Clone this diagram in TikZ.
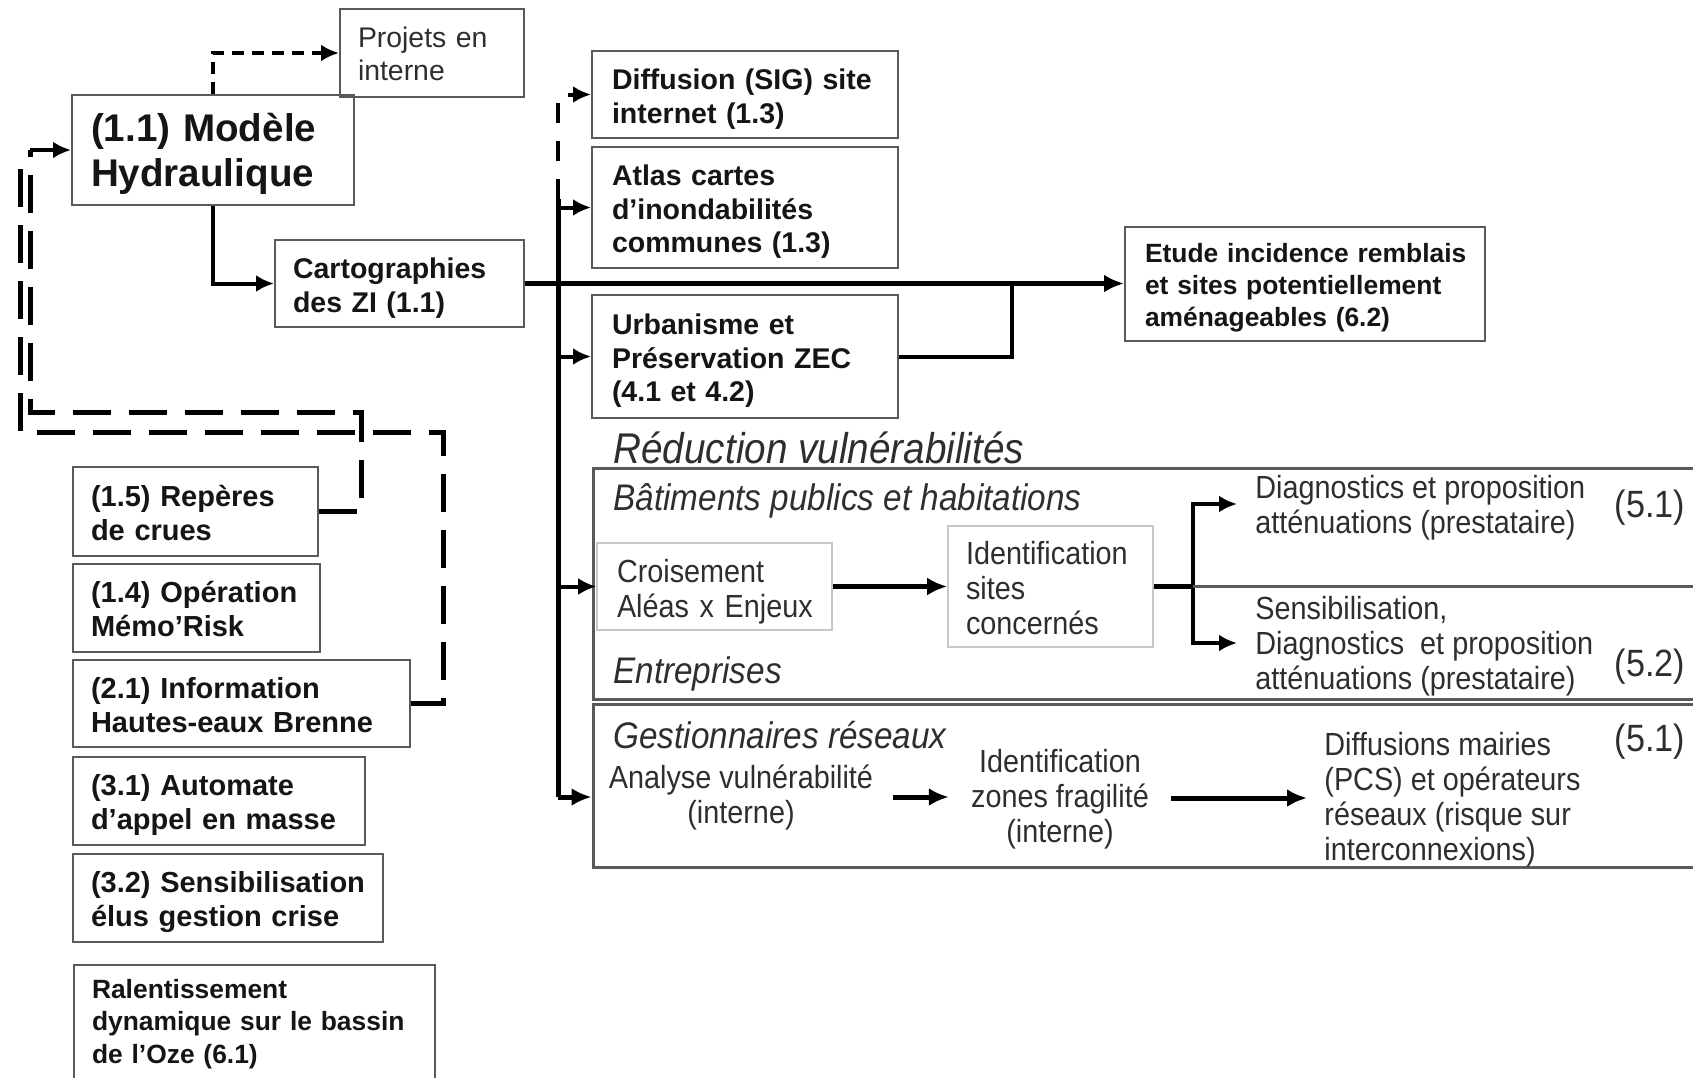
\documentclass[tikz,border=0pt]{standalone}
\usepackage{fontspec}
\setmainfont{Liberation Sans}
\newfontfamily\narrowf[FakeStretch=0.9]{Liberation Sans}
\usetikzlibrary{arrows.meta}
\definecolor{bordc}{HTML}{5A5A5A}
\definecolor{lightc}{HTML}{C8C8C8}
\definecolor{txtc}{HTML}{2E2E2E}
\definecolor{inkc}{HTML}{151515}
\newcommand{\fntBox}{\fontsize{14.25}{16.8}\selectfont\bfseries}
\newcommand{\fntBig}{\fontsize{19.3}{22.5}\selectfont\bfseries}
\newcommand{\fntEtude}{\fontsize{13.2}{16}\selectfont\bfseries}
\newcommand{\fntLeft}{\fontsize{14.5}{17}\selectfont\bfseries}
\newcommand{\fntRal}{\fontsize{13.2}{16.25}\selectfont\bfseries}
\newcommand{\fntProj}{\fontsize{14.2}{16.5}\selectfont}
\newcommand{\fntNar}{\narrowf\fontsize{16}{17.5}\selectfont}
\newcommand{\fntRed}{\narrowf\itshape\fontsize{21.5}{24}\selectfont}
\newcommand{\fntSec}{\narrowf\itshape\fontsize{18.5}{21}\selectfont}
\newcommand{\fntNum}{\narrowf\fontsize{19}{21}\selectfont}
% multi-line text, pushed slightly down inside its box
\newcommand{\mlines}[2][5pt]{\begin{tabular}{@{}l@{}}\noalign{\vskip #1}#2\end{tabular}}
\newcommand{\clines}[2][5pt]{\begin{tabular}{@{}c@{}}\noalign{\vskip #1}#2\end{tabular}}
\tikzset{
  bbox/.style={draw=bordc, line width=1pt, align=left, inner xsep=9.5pt, inner ysep=0pt, text=inkc, font=\fntBox},
  lbox/.style={bbox, font=\fntLeft, inner xsep=9pt},
  gbox/.style={draw=lightc, line width=0.8pt, align=left, inner xsep=9pt, inner ysep=0pt, text=txtc, font=\fntNar},
  ntext/.style={align=left, inner xsep=9pt, inner ysep=0pt, text=txtc, font=\fntNar},
  sect/.style={inner sep=0pt, text=txtc, font=\fntSec},
  num/.style={inner sep=0pt, text=txtc, font=\fntNum},
  bigbox/.style={draw=bordc, line width=1.5pt, minimum width=563.5pt},
  conn/.style={line width=2pt, draw=black},
  connM/.style={line width=2.5pt, draw=black},
  arr/.style={conn, -{Latex[length=9pt,width=8.5pt]}},
  arrM/.style={connM, -{Latex[length=10pt,width=9pt]}},
  dshL/.style={line width=2.5pt, dash pattern=on 19pt off 9pt},
  dshP/.style={dash pattern=on 6pt off 4pt},
  dshT/.style={dash pattern=on 10pt off 9pt},
}
\begin{document}
\begin{tikzpicture}[x=0.5pt,y=-0.5pt]
\useasboundingbox (0,0) rectangle (1693,1077);
\clip (0,0) rectangle (1693,1077);

% ---- top left ----
\node[bbox, font=\fntBig, minimum width=141pt, minimum height=55pt, text width=122pt] (modele) at (213,150) {\mlines{(1.1) Modèle\\Hydraulique}};
\node[bbox, font=\fntProj, text=txtc, inner xsep=9pt, minimum width=92pt, minimum height=44pt, text width=74pt] (projets) at (432,53) {\mlines[4pt]{Projets en\\interne}};
\node[bbox, inner xsep=9pt, minimum width=124.5pt, minimum height=43.5pt, text width=106.5pt] (carto) at (399.5,283.5) {\mlines{Cartographies\\des ZI (1.1)}};

% ---- middle column ----
\node[bbox, inner xsep=10pt, minimum width=153pt, minimum height=43.5pt, text width=133pt] (diff) at (745,94.5) {\mlines{Diffusion (SIG) site\\internet (1.3)}};
\node[bbox, inner xsep=10pt, minimum width=153pt, minimum height=60.5pt, text width=133pt] (atlas) at (745,207.5) {\mlines{Atlas cartes\\d’inondabilités\\communes (1.3)}};
\node[bbox, inner xsep=10pt, minimum width=153pt, minimum height=61.5pt, text width=133pt] (urb) at (745,356.5) {\mlines{Urbanisme et\\Préservation ZEC\\(4.1 et 4.2)}};
\node[bbox, font=\fntEtude, inner xsep=10pt, minimum width=180pt, minimum height=57pt, text width=160pt] (etude) at (1305,284) {\mlines[4pt]{Etude incidence remblais\\et sites potentiellement\\aménageables (6.2)}};

% ---- left column ----
\node[lbox, minimum width=122.5pt, minimum height=44.5pt, text width=104.5pt] (rep15) at (195.5,511.5) {\mlines{(1.5) Repères\\de crues}};
\node[lbox, minimum width=123.5pt, minimum height=44pt, text width=105.5pt] (memo14) at (196.5,608) {\mlines{(1.4) Opération\\Mémo’Risk}};
\node[lbox, minimum width=168.5pt, minimum height=43.5pt, text width=150.5pt] (info21) at (241.5,703.5) {\mlines{(2.1) Information\\Hautes-eaux Brenne}};
\node[lbox, minimum width=146pt, minimum height=44pt, text width=128pt] (auto31) at (219,801) {\mlines{(3.1) Automate\\d’appel en masse}};
\node[lbox, minimum width=155pt, minimum height=44pt, text width=137pt] (sens32) at (228,898) {\mlines{(3.2) Sensibilisation\\élus gestion crise}};
\node[lbox, font=\fntRal, minimum width=180.5pt, minimum height=57pt, text width=162.5pt] (ralent) at (254.5,1022) {\mlines[2pt]{Ralentissement\\dynamique sur le bassin\\de l’Oze (6.1)}};

% ---- reduction vulnerabilites ----
\node[bigbox, minimum height=115.5pt] (red1) at (1156.5,583.5) {};
\node[bigbox, minimum height=81.5pt] (red2) at (1156.5,785.5) {};
\node[sect, font=\fntRed, anchor=base west] (lred) at (613,463) {Réduction vulnérabilités};
\node[sect, anchor=base west] (lbat) at (613,510) {Bâtiments publics et habitations};
\node[sect, anchor=base west] (lent) at (613,683) {Entreprises};
\node[sect, anchor=base west] (lges) at (613,748) {Gestionnaires réseaux};

\node[gbox, inner xsep=10pt, minimum width=117.5pt, minimum height=43.5pt, text width=97.5pt] (crois) at (714.5,586.5) {\mlines[6pt]{Croisement\\Aléas x Enjeux}};
\node[gbox, minimum width=102.5pt, minimum height=60.5pt, text width=84.5pt] (idsites) at (1050.5,586.5) {\mlines[6pt]{Identification\\sites\\concernés}};
\node[ntext, anchor=west] (diag51) at (1237,504) {\mlines[5pt]{Diagnostics et proposition\\atténuations (prestataire)}};
\node[ntext, anchor=west] (sens52) at (1237,643) {\mlines[4pt]{Sensibilisation,\\Diagnostics\ \ et proposition\\atténuations (prestataire)}};
\node[num] (n51a) at (1650,508) {(5.1)};
\node[num] (n52) at (1650,667) {(5.2)};
\node[num] (n51b) at (1650,742) {(5.1)};

\node[ntext, inner xsep=10pt] (analyse) at (741,797) {\clines[2pt]{Analyse vulnérabilité\\(interne)}};
\node[ntext, inner xsep=11pt] (idzone) at (1060,798) {\clines[2pt]{Identification\\zones fragilité\\(interne)}};
\node[ntext, anchor=west, inner xsep=8.5pt] (dmair) at (1307,798) {\mlines[3pt]{Diffusions mairies\\(PCS) et opérateurs\\réseaux (risque sur\\interconnexions)}};

% ---- connectors: top left ----
\draw[arr, dshP] (modele.north) |- (projets.west);
\draw[arr] (modele.south) |- (carto.west);
\draw[arrM] (carto.east) -- (carto.east -| etude.west);

% trunk
\coordinate (tj) at (558,283.5);
\coordinate (td) at (558,199);
\coordinate (tb) at (558,797);
\draw[connM] (td) -- (tb);
\draw[arr, dshT] (td) |- (diff.west);
\draw[arr] (atlas.west -| tj) -- (atlas.west);
\draw[arr] (urb.west -| tj) -- (urb.west);
\draw[arr] (crois.west -| tj) -- (crois.west);
\draw[arrM] (tb) -- (tb -| red2.west);

% urbanisme to main line
\coordinate (uj) at (1012,283.5);
\draw[conn] (urb.east) -| (uj);

% reduction flows
\draw[arrM] (crois.east) -- (idsites.west);
\coordinate (br) at (1193,586.5);
\draw[connM] (idsites.east) -- (br);
\draw[arr] (br) |- (diag51.west);
\draw[arr] (br) |- (sens52.west);
\draw[line width=1.5pt, draw=bordc] (br) -- (br -| red1.east);
\draw[arrM] (analyse.east) -- (analyse.east -| idzone.west);
\draw[arrM] (idzone.east) -- (idzone.east -| dmair.west);

% left dashed feedback
\coordinate (a1) at (361,412);
\coordinate (a2) at (30,412);
\coordinate (a3) at (30,150);
\draw[dshL] (rep15.east) -| (a1) -- (a2) -- (a3);
\draw[arr] (a3) -- (a3 -| modele.west);
\coordinate (b1) at (443,432);
\coordinate (b2) at (20,432);
\coordinate (b3) at (20,158);
\draw[dshL] (info21.east) -| (b1) -- (b2) -- (b3);
\end{tikzpicture}
\end{document}
